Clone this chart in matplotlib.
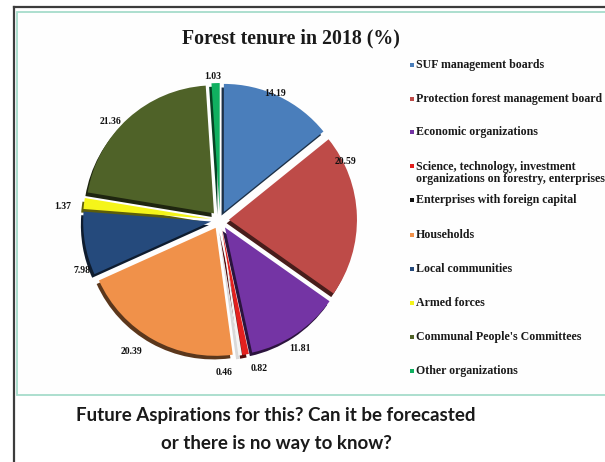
import matplotlib
matplotlib.use("Agg")
import matplotlib.pyplot as plt
from matplotlib.lines import Line2D
from matplotlib.patches import Rectangle
import matplotlib.colors as mcolors
import numpy as np

# ---------------- data ----------------
categories = [
    "SUF management boards",
    "Protection forest management board",
    "Economic organizations",
    "Science, technology, investment\norganizations on forestry, enterprises",
    "Enterprises with foreign capital",
    "Households",
    "Local communities",
    "Armed forces",
    "Communal People's Committees",
    "Other organizations",
]
values = [14.19, 20.59, 11.81, 0.82, 0.46, 20.39, 7.98, 1.37, 21.36, 1.03]
value_labels = ["14.19", "20.59", "11.81", "0.82", "0.46", "20.39", "7.98", "1.37", "21.36", "1.03"]
title = "Forest tenure in 2018 (%)"
caption = ["Future Aspirations for this? Can it be forecasted",
           "or there is no way to know?"]

# ---------------- style ----------------
slice_colors = ["#4A7EBB", "#BE4B48", "#7434A4", "#E3201E", "#F4F4F4",
                "#F0914A", "#254A7C", "#F5F51A", "#4F6228", "#10B060"]
legend_colors = ["#4A7EBB", "#BE4B48", "#7434A4", "#E3201E", "#111111",
                 "#F0914A", "#254A7C", "#F5F51A", "#4F6228", "#10B060"]
label_angle_nudge = [-2, -23, 1.5, -4, 7, 4.7, -10, -2, -6, -1]   # degrees clockwise
label_radius = [1.08, 1.08, 1.18, 1.20, 1.19, 1.24, 1.15, 1.23, 1.15, 1.12]
legend_y_px = [65, 99, 132, 161, 200, 235, 269, 303, 337, 371]

W, H = 605, 462
fig = plt.figure(figsize=(W / 100, H / 100), dpi=100)
fig.patch.set_facecolor("white")

def fx(px):
    return px / W

def fy(py):
    return 1 - py / H

# frame lines
fig.add_artist(Rectangle((fx(17), fy(395)), fx(700), (395 - 12) / H,
                         transform=fig.transFigure, facecolor="#FEFEFE",
                         edgecolor="#A6DCCB", linewidth=1.3, zorder=0))
fig.add_artist(Line2D([fx(14), fx(14)], [fy(7), 0], transform=fig.transFigure,
                      color="#3C3C3C", linewidth=1.6))
fig.add_artist(Line2D([fx(14), 1], [fy(7), fy(7)], transform=fig.transFigure,
                      color="#3C3C3C", linewidth=1.6))

# pie axes
unit_px = 128.0
cx, cy = 220, 220
half = 175
ax = fig.add_axes([fx(cx - half), fy(cy + half), 2 * half / W, 2 * half / H])

shadow_colors = [tuple(0.38 * np.array(mcolors.to_rgb(c))) for c in slice_colors]
shadow_colors[4] = (0.85, 0.85, 0.85)
ax.pie(values, colors=shadow_colors, startangle=90, counterclock=False,
       explode=[0.07] * len(values), radius=1.0, center=(-0.018, -0.028),
       wedgeprops={"linewidth": 0})
ax.pie(values, colors=slice_colors, startangle=90, counterclock=False,
       explode=[0.07] * len(values), radius=1.0,
       wedgeprops={"linewidth": 0})

lim = half / unit_px
ax.set_xlim(-lim, lim)
ax.set_ylim(-lim, lim)
ax.set_aspect("equal")
ax.axis("off")

cum = np.cumsum([0] + values[:-1])
for i, v in enumerate(values):
    cw = 3.6 * (cum[i] + v / 2) + label_angle_nudge[i]
    ang = np.deg2rad(90 - cw)
    r = label_radius[i]
    ax.text(r * np.cos(ang), r * np.sin(ang), value_labels[i], ha="center", va="center",
            fontsize=7, fontweight="bold", family="Liberation Serif", color="#111111")

# title
fig.text(fx(291), fy(38), title, ha="center", va="center", fontsize=14.3,
         fontweight="bold", family="Liberation Serif", color="#1A1A1A")

# legend
for i, lab in enumerate(categories):
    y = legend_y_px[i]
    multi = "\n" in lab
    my = y + 5 if multi else y
    fig.add_artist(Rectangle((fx(410), fy(my + 2)), 4 / W, 4 / H, transform=fig.transFigure,
                             facecolor=legend_colors[i], edgecolor="none"))
    fig.text(fx(416), fy(y), lab, ha="left", va="top" if multi else "center",
             fontsize=8.6, fontweight="bold", family="Liberation Serif", color="#1A1A1A",
             linespacing=1.0)

# caption
for j, line in enumerate(caption):
    fig.text(fx(276), fy(415 + 28 * j), line, ha="center", va="center", fontsize=13.5,
             fontweight="bold", family="Lato", color="#1A1A1A")

fig.savefig("out.png", dpi=100)
